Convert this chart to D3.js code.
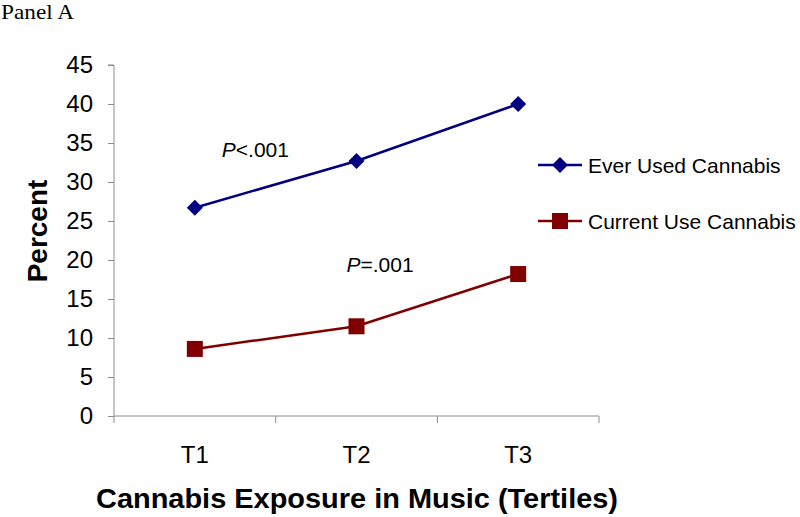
<!DOCTYPE html>
<html>
<head>
<meta charset="utf-8">
<script src="https://cdn.jsdelivr.net/npm/d3@7"></script>
<style>
  body { margin: 0; background: #fff; }
  svg { font-family: Arial, "Liberation Sans", sans-serif; }
</style>
</head>
<body>
<script>
// data
let tertiles = ["T1", "T2", "T3"];
let everUsed = [26.7, 32.7, 40.0];     // % ever used cannabis
let currentUse = [8.6, 11.5, 18.2];    // % current use
let yTicks = [0, 5, 10, 15, 20, 25, 30, 35, 40, 45];
let seriesNames = ["Ever Used Cannabis", "Current Use Cannabis"];
let pLabels = [
    { text: "<.001", x: "T1", y: 33.2, dx: 27 },
    { text: "=.001", x: "T2", y: 18.4, dx: -10 }
];

let width = 800,
    height = 517;

let svg = d3.select("body").append("svg")
    .attr("width", width)
    .attr("height", height);

// scales
let xScale = d3.scaleBand()
    .domain(tertiles)
    .range([114, 599]);

let yScale = d3.scaleLinear()
    .domain([0, 45])
    .range([416, 65]);

let axisColor = "#8c8c8c";

// y axis
let yAxis = d3.axisLeft(yScale)
    .tickValues(yTicks)
    .tickSize(6)
    .tickPadding(15);

let gy = svg.append("g")
    .attr("transform", `translate(${xScale.range()[0]},0)`)
    .call(yAxis);
gy.attr("font-family", null);
gy.select(".domain").attr("stroke", axisColor).attr("d", `M-6,${yScale(45)}H0V${yScale(0)}`);
gy.selectAll(".tick line").attr("stroke", axisColor);
gy.selectAll(".tick text")
    .attr("font-size", 24)
    .attr("fill", "#000");

// x axis: ticks at band edges
let gx = svg.append("g")
    .attr("transform", `translate(0,${yScale(0)})`);
gx.append("line")
    .attr("x1", xScale.range()[0]).attr("x2", xScale.range()[1])
    .attr("stroke", axisColor);
let edges = tertiles.map(d => xScale(d)).concat([xScale.range()[1]]);
gx.selectAll(".xtick")
    .data(edges)
    .join("line")
    .attr("x1", d => d).attr("x2", d => d)
    .attr("y1", 0).attr("y2", 7)
    .attr("stroke", axisColor);
gx.selectAll(".xlab")
    .data(tertiles)
    .join("text")
    .attr("x", d => xScale(d) + xScale.bandwidth() / 2)
    .attr("y", 47)
    .attr("text-anchor", "middle")
    .attr("font-size", 24)
    .text(d => d);

// axis titles
svg.append("text")
    .attr("transform", "translate(47,231) rotate(-90)")
    .attr("text-anchor", "middle")
    .attr("font-size", 28)
    .attr("font-weight", "bold")
    .text("Percent");

svg.append("text")
    .attr("x", 357)
    .attr("y", 508)
    .attr("text-anchor", "middle")
    .attr("font-size", 28)
    .attr("font-weight", "bold")
    .attr("textLength", 522)
    .attr("lengthAdjust", "spacingAndGlyphs")
    .text("Cannabis Exposure in Music (Tertiles)");

// panel label
svg.append("text")
    .attr("x", 1)
    .attr("y", 19)
    .style("font-family", "'Liberation Serif', 'DejaVu Serif', serif")
    .attr("font-size", 21)
    .attr("textLength", 73)
    .attr("lengthAdjust", "spacingAndGlyphs")
    .text("Panel A");

// lines
let cx = d => xScale(d) + xScale.bandwidth() / 2;
let line = d3.line()
    .x((d, i) => cx(tertiles[i]))
    .y(d => yScale(d));

let blue = "#000080",
    red = "#800000";

svg.append("path")
    .datum(everUsed)
    .attr("d", line)
    .attr("fill", "none")
    .attr("stroke", blue)
    .attr("stroke-width", 2.5);

svg.append("path")
    .datum(currentUse)
    .attr("d", line)
    .attr("fill", "none")
    .attr("stroke", red)
    .attr("stroke-width", 2.5);

let diamond = d3.symbol().type(d3.symbolSquare).size(128);

svg.selectAll(".ever")
    .data(everUsed)
    .join("path")
    .attr("d", diamond)
    .attr("transform", (d, i) => `translate(${cx(tertiles[i])},${yScale(d)}) rotate(45)`)
    .attr("fill", blue);

svg.selectAll(".cur")
    .data(currentUse)
    .join("rect")
    .attr("x", (d, i) => cx(tertiles[i]) - 8)
    .attr("y", d => yScale(d) - 8)
    .attr("width", 16)
    .attr("height", 16)
    .attr("fill", red);

// P value annotations
pLabels.forEach(p => {
    let t = svg.append("text")
        .attr("x", cx(p.x) + p.dx)
        .attr("y", yScale(p.y))
        .attr("font-size", 21);
    t.append("tspan").attr("font-style", "italic").text("P");
    t.append("tspan").text(p.text);
});

// legend
let legend = svg.append("g").attr("transform", "translate(538,0)");
let legendY = [165, 221];
[blue, red].forEach((c, i) => {
    let g = legend.append("g").attr("transform", `translate(0,${legendY[i]})`);
    g.append("line").attr("x1", 0).attr("x2", 44)
        .attr("stroke", c).attr("stroke-width", 2.5);
    if (i === 0) {
        g.append("path").attr("d", diamond)
            .attr("transform", "translate(22,0) rotate(45)")
            .attr("fill", c);
    } else {
        g.append("rect").attr("x", 14).attr("y", -8)
            .attr("width", 16).attr("height", 16).attr("fill", c);
    }
    g.append("text")
        .attr("x", 50)
        .attr("y", 8)
        .attr("font-size", 21)
        .text(seriesNames[i]);
});
</script>
</body>
</html>
